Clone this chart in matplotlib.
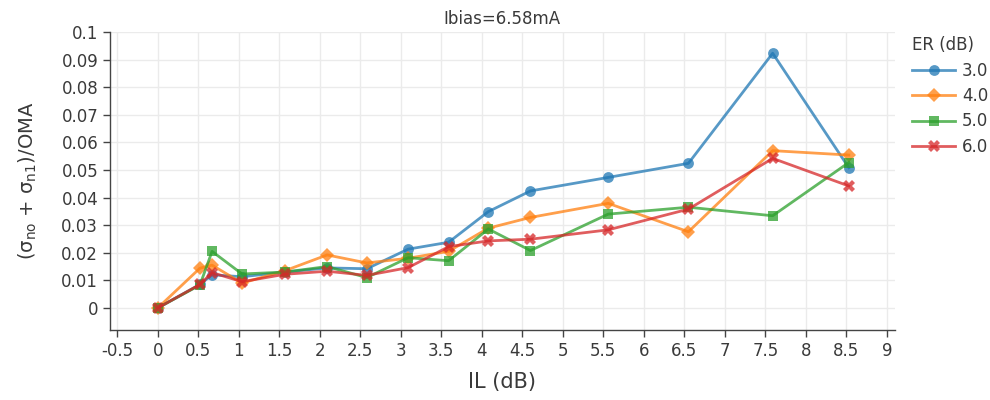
import matplotlib
matplotlib.use("Agg")
import matplotlib.pyplot as plt
import numpy as np

# ---- data ----
il_db = [0, 0.52, 0.67, 1.04, 1.57, 2.09, 2.58, 3.09, 3.59, 4.08, 4.6, 5.56, 6.55, 7.59, 8.53]
er_labels = ["3.0", "4.0", "5.0", "6.0"]
er_3 = [0, 0.0085, 0.0120, 0.0113, 0.0130, 0.0145, 0.0142, 0.0213, 0.0238, 0.0349, 0.0424, 0.0473, 0.0524, 0.0923, 0.0508]
er_4 = [0, 0.0144, 0.0155, 0.0090, 0.0135, 0.0192, 0.0163, 0.0180, 0.0205, 0.0289, 0.0328, 0.0379, 0.0276, 0.0570, 0.0554]
er_5 = [0, 0.0083, 0.0205, 0.0123, 0.0130, 0.0150, 0.0110, 0.0182, 0.0171, 0.0286, 0.0208, 0.0340, 0.0365, 0.0334, 0.0527]
er_6 = [0, 0.0085, 0.0128, 0.0095, 0.0122, 0.0133, 0.0118, 0.0146, 0.0222, 0.0243, 0.0249, 0.0283, 0.0358, 0.0542, 0.0442]
x_ticks = [-0.5, 0, 0.5, 1, 1.5, 2, 2.5, 3, 3.5, 4, 4.5, 5, 5.5, 6, 6.5, 7, 7.5, 8, 8.5, 9]
y_ticks = [0, 0.01, 0.02, 0.03, 0.04, 0.05, 0.06, 0.07, 0.08, 0.09, 0.1]
title = "Ibias=6.58mA"

plt.rcParams['font.family'] = ['DejaVu Sans']
plt.rcParams['mathtext.fontset'] = 'dejavusans'

fig = plt.figure(figsize=(9.9, 4.0), dpi=100)
ax = fig.add_axes([110/990, 70/400, 785/990, 298/400])

colors = ["#1f77b4", "#ff7f0e", "#2ca02c", "#d62728"]
markers = ["o", "D", "s", "X"]
msizes = [7.8, 7.0, 7.4, 8.2]
series = [er_3, er_4, er_5, er_6]
for ys, c, m, ms, lab in zip(series, colors, markers, msizes, er_labels):
    ax.plot(il_db, ys, color=c, marker=m, markersize=ms, linewidth=2.0,
            alpha=0.75, label=lab, markeredgewidth=0, zorder=3)

ax.set_xlim(-0.59, 9.1)
ax.set_ylim(-0.008, 0.1)
ax.set_xticks(x_ticks)
ax.set_xticklabels([f"{t:g}" for t in x_ticks])
ax.set_yticks(y_ticks)
ax.set_yticklabels([f"{t:g}" for t in y_ticks])
ax.tick_params(axis='both', labelsize=12, colors="#444444", labelcolor="#3a3a3a",
               length=5, width=1, direction='out')
ax.grid(True, color="#ebebeb", linewidth=1.0, zorder=0)
ax.set_axisbelow(True)
for s in ["top", "right"]:
    ax.spines[s].set_visible(False)
for s in ["left", "bottom"]:
    ax.spines[s].set_color("#444444")
    ax.spines[s].set_linewidth(1.0)

ax.set_xlabel("IL (dB)", fontsize=15, color="#3a3a3a", labelpad=9)
ax.set_ylabel("(σ$_{\\rm no}$ + σ$_{\\rm n1}$)/OMA", fontsize=14, color="#3a3a3a", labelpad=16)
fig.text(502/990, 1 - 19/400, title, ha='center', va='center', fontsize=12, color="#3a3a3a")

leg = fig.legend(loc='upper left', bbox_to_anchor=(912/990, 1 - 36/400), frameon=False,
                 fontsize=12, title="ER (dB)", title_fontsize=12, handlelength=2.6,
                 handletextpad=0.4, labelspacing=0.45, borderpad=0, borderaxespad=0)
leg._legend_box.align = "left"
for t in leg.get_texts():
    t.set_color("#3a3a3a")
leg.get_title().set_color("#3a3a3a")

fig.savefig("out.png", dpi=100)
